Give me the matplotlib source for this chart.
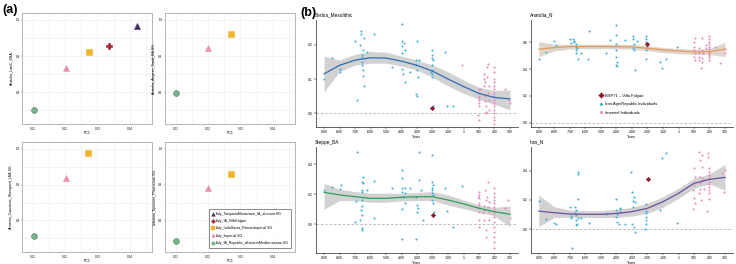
import matplotlib
matplotlib.use("Agg")
import matplotlib.pyplot as plt
from matplotlib.lines import Line2D
from matplotlib.ticker import MultipleLocator

plt.rcParams['font.family'] = ['Liberation Sans', 'DejaVu Sans']

# ---------------- (a) PCA-like panels ----------------
pca_groups = ['Italy_TarquiniaMontarozzi_IA_oLevant.SG', 'Italy_IA_VillaFalgari',
              'Italy_IsolaSacra_RomanImperial.SG', 'Italy_Imperial.SG',
              'Italy_IA_Republic_oEasternMediterranean.SG']
pca_colors = ['#3e2c5e', '#a4202f', '#f0b62a', '#e98fb0', '#78b48e']
pca_markers = ['^', 'P', 's', '^', 'o']

# PC1 / y per group (None = not shown)
tl_pc1 = [0.0421, 0.0337, 0.0273, 0.0202, 0.0103]
tl_y = [0.982, 0.927, 0.911, 0.867, 0.751]
tr_pc1 = [None, None, 0.0272, 0.0200, 0.0100]
tr_y = [None, None, 0.960, 0.922, 0.798]
bl_pc1 = [None, None, 0.0272, 0.0202, 0.0102]
bl_y = [None, None, 0.987, 0.919, 0.757]
br_pc1 = [None, None, 0.0272, 0.0199, 0.0100]
br_y = [None, None, 0.931, 0.892, 0.743]
pca_ylabels = ['Anatolia_LateC_EBA', 'Anatolia_Aegean_Tepid_BA.SG',
               'Armenia_Caucasus_Shengavit_LBA.SG', 'Lebanon_Eponnes_Phoenician.SG']

# ---------------- (b) time series panels ----------------
year_ticks = [-900, -800, -700, -600, -500, -400, -300, -200, -100, 1, 100, 200, 300]
year_labels = ['-900', '-800', '-700', '-600', '-500', '-400', '-300', '-200', '-100', '1', '100', '200', '300']
fit_years = [-900, -800, -700, -600, -500, -400, -300, -200, -100, 1, 100, 200, 300]

serbia_ia = [(-900, 0.10), (-850, 0.16), (-800, 0.13), (-795, 0.12), (-700, 0.21), (-685, 0.04),
             (-665, 0.20), (-662, 0.23), (-660, 0.24), (-658, 0.17), (-656, 0.165), (-654, 0.15),
             (-652, 0.14), (-650, 0.125), (-648, 0.11), (-646, 0.185), (-644, 0.22), (-642, 0.08),
             (-625, 0.18), (-578, 0.23), (-463, 0.135), (-400, 0.26), (-400, 0.21), (-398, 0.195),
             (-400, 0.175), (-400, 0.13), (-392, 0.115), (-387, 0.205), (-380, 0.185), (-378, 0.09),
             (-345, 0.12), (-305, 0.155), (-300, 0.21), (-305, 0.14), (-300, 0.125), (-293, 0.105),
             (-305, 0.055), (-300, 0.05), (-285, 0.155), (-205, 0.185), (-205, 0.17), (-205, 0.16),
             (-200, 0.14), (-205, 0.125), (-205, 0.115), (-200, 0.105), (-210, 0.12), (-195, 0.155),
             (-195, 0.02), (-120, 0.18), (-105, 0.02), (-70, 0.02)]
serbia_imp = [(-10, 0.14), (100, 0.07), (100, 0.06), (98, 0.05), (100, 0.04), (100, 0.03), (100, 0.02),
              (97, -0.005), (100, -0.02), (102, 0.045), (105, 0.072), (130, 0.115), (135, 0.10),
              (140, 0.09), (130, 0.08), (137, 0.05), (140, 0.035), (143, 0.02), (145, 0.0), (148, 0.005),
              (158, 0.145), (155, 0.135), (150, 0.105), (162, 0.08), (158, 0.06), (166, 0.04), (162, 0.01),
              (200, 0.135), (200, 0.12), (200, 0.10), (200, 0.09), (200, 0.08), (200, 0.07), (200, 0.06),
              (200, 0.05), (200, 0.04), (200, 0.03), (200, 0.02), (200, 0.01), (200, 0.0), (200, -0.01),
              (200, -0.02), (200, -0.03), (265, 0.07), (295, 0.04), (300, 0.03)]
serbia_falgari = (-200, 0.015)
serbia_fit = [0.115, 0.14, 0.155, 0.162, 0.161, 0.152, 0.14, 0.123, 0.10, 0.078, 0.058, 0.046, 0.042]
serbia_hi = [0.167, 0.155, 0.172, 0.180, 0.178, 0.167, 0.155, 0.141, 0.121, 0.097, 0.076, 0.066, 0.068]
serbia_lo = [0.063, 0.121, 0.141, 0.146, 0.146, 0.138, 0.126, 0.105, 0.080, 0.058, 0.041, 0.026, 0.010]

anatolia_ia = [(-900, 0.476), (-853, 0.526), (-803, 0.61), (-792, 0.58), (-700, 0.625), (-694, 0.598),
               (-680, 0.623), (-670, 0.605), (-663, 0.585), (-660, 0.568), (-657, 0.543), (-660, 0.523),
               (-650, 0.478), (-676, 0.61), (-652, 0.555), (-626, 0.523), (-583, 0.473), (-579, 0.687),
               (-465, 0.523), (-443, 0.618), (-404, 0.73), (-400, 0.655), (-400, 0.585), (-400, 0.543),
               (-400, 0.493), (-398, 0.456), (-405, 0.43), (-398, 0.423), (-346, 0.618), (-292, 0.643),
               (-292, 0.623), (-288, 0.585), (-295, 0.56), (-288, 0.543), (-282, 0.393), (-270, 0.613),
               (-212, 0.648), (-208, 0.623), (-208, 0.605), (-204, 0.568), (-208, 0.543), (-212, 0.478),
               (-204, 0.585), (-120, 0.456), (-105, 0.406), (-77, 0.476), (-12, 0.563)]
anatolia_imp = [(105, 0.63), (100, 0.605), (102, 0.568), (103, 0.543), (105, 0.518), (100, 0.493),
                (106, 0.468), (130, 0.493), (133, 0.468), (132, 0.523), (130, 0.555), (150, 0.635),
                (152, 0.543), (155, 0.48), (155, 0.456), (157, 0.518), (145, 0.406), (175, 0.555),
                (177, 0.58), (200, 0.643), (200, 0.623), (200, 0.605), (200, 0.585), (200, 0.568),
                (200, 0.548), (200, 0.53), (200, 0.518), (200, 0.506), (200, 0.488), (200, 0.468),
                (235, 0.568), (268, 0.448), (300, 0.518), (300, 0.548)]
anatolia_falgari = (-200, 0.585)
anatolia_fit = [0.548, 0.56, 0.568, 0.568, 0.568, 0.567, 0.565, 0.555, 0.543, 0.535, 0.528, 0.53, 0.548]
anatolia_hi = [0.605, 0.585, 0.585, 0.585, 0.585, 0.585, 0.583, 0.575, 0.561, 0.553, 0.548, 0.553, 0.600]
anatolia_lo = [0.493, 0.535, 0.55, 0.552, 0.552, 0.551, 0.548, 0.538, 0.523, 0.515, 0.508, 0.508, 0.493]

steppe_ia = [(-900, 0.229), (-850, 0.251), (-800, 0.233), (-792, 0.262), (-700, 0.013), (-693, 0.156),
             (-685, 0.48), (-668, 0.029), (-662, 0.096), (-658, 0.122), (-652, 0.162), (-658, 0.218),
             (-652, 0.229), (-648, 0.273), (-658, 0.284), (-648, 0.318), (-652, -0.027), (-656, -0.038),
             (-654, 0.062), (-625, 0.229), (-578, 0.291), (-578, 0.04), (-463, 0.24), (-400, 0.362),
             (-400, 0.311), (-400, 0.24), (-400, 0.218), (-400, 0.1), (-400, -0.1), (-390, 0.184),
             (-378, 0.24), (-378, 0.207), (-378, 0.144), (-345, 0.24), (-305, 0.184), (-300, 0.129),
             (-293, 0.107), (-297, 0.084), (-305, -0.1), (-285, 0.484), (-285, 0.296), (-277, 0.229),
             (-264, 0.029), (-200, 0.462), (-200, 0.284), (-195, 0.262), (-200, 0.24), (-200, 0.229),
             (-195, 0.196), (-200, 0.162), (-195, 0.144), (-200, 0.207), (-191, 0.084), (-120, 0.24),
             (-105, 0.089), (-70, -0.016), (-12, 0.256)]
steppe_imp = [(100, 0.218), (100, 0.196), (98, 0.173), (100, 0.144), (98, 0.129), (100, 0.107),
              (98, 0.084), (100, 0.029), (98, -0.016), (96, 0.184), (130, 0.096), (125, 0.073),
              (132, 0.029), (140, 0.229), (143, 0.162), (133, 0.122), (143, -0.082), (146, -0.038),
              (157, 0.284), (155, 0.184), (166, 0.151), (157, 0.118), (162, 0.084), (166, 0.029),
              (200, 0.24), (200, 0.207), (200, 0.184), (200, 0.162), (200, 0.14), (200, 0.118),
              (200, 0.096), (200, 0.073), (200, 0.051), (200, 0.018), (200, -0.016), (200, -0.049),
              (200, -0.082), (200, -0.116), (200, -0.16), (265, 0.107), (287, 0.162), (300, 0.04)]
steppe_falgari = (-195, 0.062)
steppe_fit = [0.213, 0.196, 0.184, 0.173, 0.173, 0.18, 0.184, 0.184, 0.162, 0.136, 0.107, 0.084, 0.067]
steppe_hi = [0.273, 0.233, 0.218, 0.207, 0.207, 0.207, 0.211, 0.218, 0.196, 0.162, 0.129, 0.113, 0.122]
steppe_lo = [0.10, 0.158, 0.158, 0.147, 0.147, 0.156, 0.158, 0.158, 0.129, 0.104, 0.08, 0.056, -0.016]

iran_ia = [(-900, 0.194), (-853, 0.066), (-803, 0.039), (-792, 0.032), (-700, 0.153), (-694, 0.073),
           (-690, 0.089), (-685, -0.133), (-668, 0.153), (-661, 0.13), (-661, 0.096), (-657, 0.062),
           (-652, 0.032), (-646, 0.073), (-657, 0.027), (-668, 0.112), (-650, 0.375), (-650, 0.393),
           (-646, 0.203), (-625, 0.073), (-579, 0.043), (-465, 0.103), (-400, 0.206), (-400, 0.13),
           (-396, 0.103), (-400, 0.08), (-396, 0.05), (-378, 0.142), (-374, 0.119), (-378, 0.135),
           (-383, 0.032), (-346, 0.032), (-303, 0.393), (-297, 0.256), (-292, 0.194), (-288, 0.016),
           (-282, -0.018), (-292, 0.153), (-288, 0.222), (-282, 0.187), (-297, 0.032), (-210, 0.169),
           (-210, 0.107), (-206, 0.08), (-210, 0.062), (-206, 0.032), (-214, 0.002), (-206, 0.123),
           (-120, 0.13), (-105, 0.489), (-77, 0.523), (-12, 0.039)]
iran_imp = [(100, 0.416), (105, 0.359), (103, 0.302), (97, 0.267), (100, 0.21), (105, 0.176),
            (97, 0.135), (132, 0.53), (137, 0.473), (141, 0.359), (137, 0.313), (141, 0.272),
            (148, 0.199), (132, 0.245), (150, 0.51), (155, 0.428), (159, 0.34), (166, 0.272),
            (185, 0.126), (193, 0.518), (193, 0.496), (200, 0.416), (200, 0.393), (200, 0.37),
            (200, 0.347), (200, 0.325), (200, 0.309), (200, 0.29), (200, 0.267), (200, 0.245),
            (200, 0.203), (280, 0.386), (295, 0.256), (300, 0.405)]
iran_falgari = (-195, 0.343)
iran_fit = [0.123, 0.112, 0.103, 0.101, 0.101, 0.107, 0.119, 0.142, 0.187, 0.245, 0.313, 0.34, 0.354]
iran_hi = [0.233, 0.153, 0.13, 0.126, 0.126, 0.135, 0.149, 0.176, 0.222, 0.279, 0.347, 0.377, 0.443]
iran_lo = [0.016, 0.08, 0.08, 0.08, 0.078, 0.08, 0.089, 0.107, 0.149, 0.21, 0.279, 0.309, 0.267]

ia_color = '#3db3d6'
imp_color = '#e78bbd'
falgari_color = '#8e1b2c'

W, H = 736, 264
fig = plt.figure(figsize=(W / 100, H / 100), dpi=100)


def box(x0, y0, x1, y1):
    # pixel box (top-left origin) -> figure fraction
    return [x0 / W, 1 - y1 / H, (x1 - x0) / W, (y1 - y0) / H]


def pca_panel(rect, pc1, yv, ylabel, legend=False):
    ax = fig.add_axes(box(*rect))
    ax.set_xlim(0.0066, 0.0469)
    ax.set_ylim(0.712, 1.019)
    ax.set_xticks([0.01, 0.02, 0.03, 0.04])
    ax.set_xticklabels(['0.01', '0.02', '0.03', '0.04'])
    ax.set_yticks([0.8, 0.9, 1.0])
    ax.set_yticklabels(['0.8', '0.9', '1.0'])
    ax.xaxis.set_minor_locator(MultipleLocator(0.005))
    ax.yaxis.set_minor_locator(MultipleLocator(0.05))
    ax.grid(True, which='both', color='#ececec', lw=0.4)
    ax.set_axisbelow(True)
    for s in ax.spines.values():
        s.set_color('#b5b5b5')
        s.set_linewidth(0.7)
    ax.tick_params(labelsize=2.2, length=1, width=0.3, pad=0.8, color='#777777')
    ax.tick_params(which='minor', length=0)
    ax.set_xlabel('PC1', fontsize=2.6, labelpad=0.6)
    ax.set_ylabel(ylabel, fontsize=2.6, labelpad=1.5)
    handles = []
    for i in range(len(pca_groups)):
        h = Line2D([], [], ls='none', marker=pca_markers[i], color=pca_colors[i],
                   markersize=2.6, markeredgewidth=0.3, markeredgecolor=pca_colors[i])
        handles.append(h)
        if pc1[i] is None:
            continue
        ax.plot(pc1[i], yv[i], ls='none', marker=pca_markers[i], color=pca_colors[i],
                markersize=4.2, markeredgewidth=0.4,
                markeredgecolor='#4a7d5c' if i == 4 else pca_colors[i])
    if legend:
        leg = ax.legend(handles, pca_groups, loc='lower right', bbox_to_anchor=(0.985, 0.025),
                        fontsize=2.5, frameon=True, fancybox=False, handlelength=0.8,
                        handletextpad=0.4, labelspacing=0.9, borderpad=0.8)
        leg.get_frame().set_edgecolor('#555555')
        leg.get_frame().set_linewidth(0.6)
    return ax


pca_panel((22, 13, 152, 124), tl_pc1, tl_y, pca_ylabels[0])
pca_panel((165, 13, 295, 124), tr_pc1, tr_y, pca_ylabels[1])
pca_panel((22, 142, 152, 252), bl_pc1, bl_y, pca_ylabels[2])
pca_panel((165, 142, 295, 252), br_pc1, br_y, pca_ylabels[3], legend=True)


def time_panel(rect, title, ia, imp, falg, fit, lo, hi, color, ylim, yticks, band='#c4c4c4'):
    ax = fig.add_axes(box(*rect))
    ax.set_xlim(-952, 352)
    ax.set_ylim(*ylim)
    ax.fill_between(fit_years, lo, hi, color=band, alpha=0.75, lw=0, zorder=1)
    ax.axhline(0, ls=(0, (4, 3)), color='#9a9a9a', lw=0.45, zorder=0)
    ax.scatter([p[0] for p in ia], [p[1] for p in ia], s=2.2, color=ia_color, lw=0, zorder=2)
    ax.scatter([p[0] for p in imp], [p[1] for p in imp], s=2.2, color=imp_color, lw=0, zorder=2)
    ax.plot(fit_years, fit, color=color, lw=0.9, zorder=3)
    ax.scatter([falg[0]], [falg[1]], s=7, marker='D', color=falgari_color, lw=0, zorder=4)
    ax.set_xticks(year_ticks)
    ax.set_xticklabels(year_labels)
    ax.set_yticks(yticks)
    ax.set_yticklabels([f'{t:.1f}' for t in yticks])
    for s in ['top', 'right']:
        ax.spines[s].set_visible(False)
    for s in ['left', 'bottom']:
        ax.spines[s].set_linewidth(0.5)
        ax.spines[s].set_color('#222222')
    ax.tick_params(labelsize=2.4, length=1.2, width=0.35, pad=1)
    ax.set_xlabel('Years', fontsize=2.6, labelpad=0.8)
    ax.set_title(title, fontsize=3.4, loc='left', pad=2.5, x=-0.005)
    return ax


time_panel((316, 20, 518, 126.7), 'Serbia_Mesolithic', serbia_ia, serbia_imp, serbia_falgari,
           serbia_fit, serbia_lo, serbia_hi, '#2e6db4', (-0.039, 0.272), [0.0, 0.1, 0.2])
ax_an = time_panel((530.7, 20, 733, 126.7), 'Anatolia_N', anatolia_ia, anatolia_imp, anatolia_falgari,
                   anatolia_fit, anatolia_lo, anatolia_hi, '#e69a5a', (-0.03, 0.766),
                   [0.0, 0.2, 0.4, 0.6], band='#d4c8bc')
time_panel((316, 147, 518, 253.3), 'Steppe_BA', steppe_ia, steppe_imp, steppe_falgari,
           steppe_fit, steppe_lo, steppe_hi, '#2f9e58', (-0.193, 0.515), [0.0, 0.2, 0.4])
time_panel((530.7, 147, 733, 253.3), 'Iran_N', iran_ia, iran_imp, iran_falgari,
           iran_fit, iran_lo, iran_hi, '#6c4f9f', (-0.166, 0.562), [0.0, 0.2, 0.4])

leg_handles = [
    Line2D([], [], ls='none', marker='D', color=falgari_color, markersize=3.2, markeredgewidth=0),
    Line2D([], [], ls='none', marker='o', color=ia_color, markersize=2.2, markeredgewidth=0),
    Line2D([], [], ls='none', marker='o', color=imp_color, markersize=2.2, markeredgewidth=0),
]
ax_an.legend(leg_handles, ['BSP71 \u2013 Villa Falgari', 'Iron Age/Republic Individuals', 'Imperial Individuals'],
             loc='upper left', bbox_to_anchor=(0.33, 0.33), fontsize=3, frameon=False,
             handlelength=0.8, handletextpad=0.5, labelspacing=1.1, borderpad=0)

fig.text(2 / W, 1 - 13 / H, '(a)', fontsize=9, fontweight='bold', va='baseline')
fig.text(300 / W, 1 - 16 / H, '(b)', fontsize=9, fontweight='bold', va='baseline')

fig.savefig('out.png', dpi=100)
